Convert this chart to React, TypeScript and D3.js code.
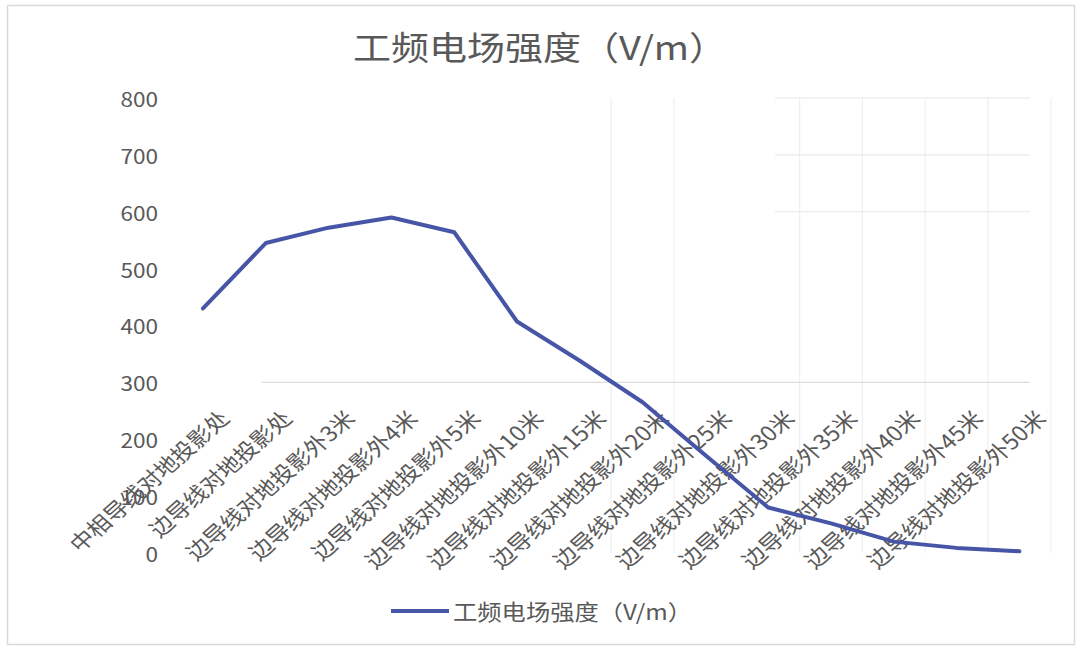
import React from "react";
import * as d3 from "d3";

const categories = [
  "中相导线对地投影处",
  "边导线对地投影处",
  "边导线对地投影外3米",
  "边导线对地投影外4米",
  "边导线对地投影外5米",
  "边导线对地投影外10米",
  "边导线对地投影外15米",
  "边导线对地投影外20米",
  "边导线对地投影外25米",
  "边导线对地投影外30米",
  "边导线对地投影外35米",
  "边导线对地投影外40米",
  "边导线对地投影外45米",
  "边导线对地投影外50米",
];
const values = [430, 545, 572, 590, 564, 407, 338, 265, 172, 80, 52, 20, 9, 3];
const yTicks = [0, 100, 200, 300, 400, 500, 600, 700, 800];
const title = "工频电场强度（V/m）";
const seriesName = "工频电场强度（V/m）";

const W = 1081;
const H = 649;
const plot = { left: 171.6, right: 1050.8, top: 98, bottom: 553 };
const FONT = "'Noto Sans CJK SC', 'Noto Sans', sans-serif";
const TEXT = "#595959";
const LINE = "#4655a5";
const SX = 1.13;

export default function App() {
  const x = d3
    .scaleBand<string>()
    .domain(categories)
    .range([plot.left, plot.right]);
  const y = d3.scaleLinear().domain([0, 800]).range([plot.bottom, plot.top]);
  const cx = (c: string) => (x(c) as number) + x.bandwidth() / 2;

  const line = d3
    .line<number>()
    .x((_, i) => cx(categories[i]))
    .y((d) => y(d));

  const boundaries = d3.range(0, categories.length + 1).map((k) => plot.left + k * x.bandwidth());
  const vGrid = [7, 8, 10, 11, 12, 13, 14];

  return (
    <div style={{ position: "fixed", left: 0, top: 0, width: W, height: H, background: "#fff" }}>
      <svg width={W} height={H} style={{ display: "block" }}>
        <rect x={0} y={0} width={W} height={H} fill="#fff" />
        <rect x={7.5} y={5.5} width={1067} height={639} fill="none" stroke="#d9d9d9" strokeWidth={1.5} />

        {/* partial gridlines */}
        {vGrid.map((k) => (
          <line
            key={"v" + k}
            x1={boundaries[k]}
            x2={boundaries[k]}
            y1={y(800)}
            y2={y(0)}
            stroke="#efefef"
            strokeWidth={1.2}
          />
        ))}
        <line x1={262} x2={1030} y1={y(300)} y2={y(300)} stroke="#dcdcdc" strokeWidth={1.3} />
        {[600, 700, 800].map((t) => (
          <line key={"h" + t} x1={775} x2={1030} y1={y(t)} y2={y(t)} stroke="#e8e8e8" strokeWidth={1.2} />
        ))}

        {/* title */}
        <text
          transform={`translate(${540},${60}) scale(${SX * 1.02},1)`}
          textAnchor="middle"
          fontFamily={FONT}
          fontSize={33}
          fill={TEXT}
        >
          {title}
        </text>

        {/* y axis labels */}
        {yTicks.map((t) => (
          <text
            key={t}
            transform={`translate(${158},${y(t)}) scale(${SX},1)`}
            textAnchor="end"
            dominantBaseline="central"
            fontFamily={FONT}
            fontSize={20}
            fill={TEXT}
          >
            {t}
          </text>
        ))}

        {/* x axis labels */}
        {categories.map((c) => (
          <text
            key={c}
            transform={`translate(${cx(c) + 28},${420}) scale(${SX},1) rotate(-45)`}
            textAnchor="end"
            fontFamily={FONT}
            fontSize={21}
            fill={TEXT}
          >
            {c}
          </text>
        ))}

        {/* series line */}
        <path d={line(values) || ""} fill="none" stroke={LINE} strokeWidth={4} strokeLinejoin="round" strokeLinecap="round" />

        {/* legend */}
        <line x1={391} x2={449} y1={611} y2={611} stroke={LINE} strokeWidth={4} />
        <text
          transform={`translate(${453},${611}) scale(${SX},1)`}
          dominantBaseline="central"
          fontFamily={FONT}
          fontSize={21.5}
          fill={TEXT}
        >
          {seriesName}
        </text>
      </svg>
    </div>
  );
}
